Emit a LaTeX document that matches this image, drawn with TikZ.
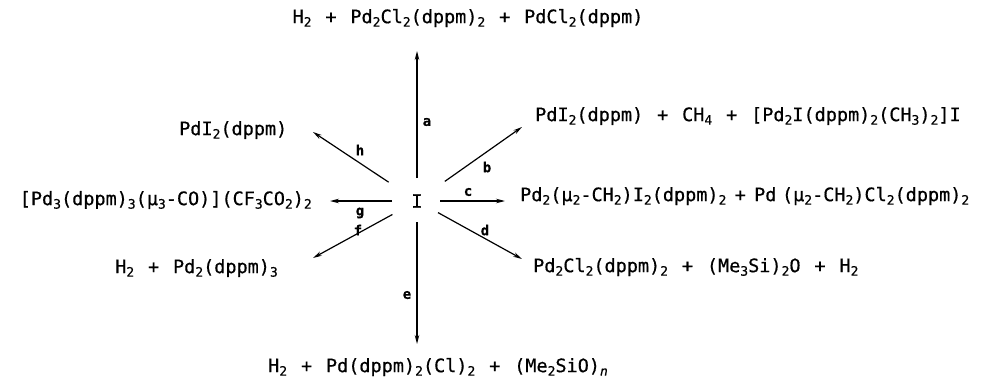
\documentclass[tikz,border=0pt]{standalone}
\usepackage{fontspec}
\setmainfont{DejaVu Sans Mono}[FakeBold=0.5]
\usetikzlibrary{arrows.meta}
\newcommand{\sbs}[1]{\raisebox{-0.35ex}{\fontsize{13}{13}\selectfont #1}}
\newcommand{\pl}{\hspace{0.75em}+\hspace{0.75em}}
\newcommand{\pln}{\hspace{0.45em}+\hspace{0.45em}}
\begin{document}
\begin{tikzpicture}[x=1pt,y=-1pt,
  txt/.style={inner sep=0pt,font=\fontsize{18.5}{20}\selectfont},
  lbl/.style={inner sep=0pt,font=\fontsize{14}{14}\selectfont\bfseries},
  arr/.style={line width=1.2pt,-{Stealth[length=9pt,width=4.5pt]}}]
\useasboundingbox[fill=white] (0,0) rectangle (983,380);
% centre
\node[txt] (I) at (417,201) {I};
% products
\node[txt] (pa) at (468,18) {H\sbs{2}\pl Pd\sbs{2}Cl\sbs{2}(dppm)\sbs{2}\pl PdCl\sbs{2}(dppm)};
\node[txt,anchor=west] (ph) at (179,130) {PdI\sbs{2}(dppm)};
\node[txt,anchor=west] (pb) at (535,116) {PdI\sbs{2}(dppm)\pl CH\sbs{4}\pl [Pd\sbs{2}I(dppm)\sbs{2}(CH\sbs{3})\sbs{2}]I};
\node[txt,anchor=east] (pg) at (312,200) {[Pd\sbs{3}(dppm)\sbs{3}(μ\sbs{3}-CO)](CF\sbs{3}CO\sbs{2})\sbs{2}};
\node[txt,anchor=west] (pc) at (520,196) {Pd\sbs{2}(μ\sbs{2}-CH\sbs{2})I\sbs{2}(dppm)\sbs{2}\pln Pd\hspace{0.3em}(μ\sbs{2}-CH\sbs{2})Cl\sbs{2}(dppm)\sbs{2}};
\node[txt,anchor=west] (pd) at (533,267) {Pd\sbs{2}Cl\sbs{2}(dppm)\sbs{2}\pl (Me\sbs{3}Si)\sbs{2}O\pl H\sbs{2}};
\node[txt,anchor=west] (pf) at (115,268) {H\sbs{2}\pl Pd\sbs{2}(dppm)\sbs{3}};
\node[txt] (pe) at (438,367) {H\sbs{2}\pl Pd(dppm)\sbs{2}(Cl)\sbs{2}\pl (Me\sbs{2}SiO)\sbs{\itshape n}};
% arrow tips
\coordinate (ta) at (417,51);
\coordinate (te) at (417,344);
\coordinate (tb) at (522,127);
\coordinate (tc) at (505,201);
\coordinate (td) at (522,259);
\coordinate (th) at (313,132);
\coordinate (tg) at (330,201);
\coordinate (tf) at (313,258);
% arrows
\draw[arr,shorten <=23pt] (I.center) -- (ta);
\draw[arr,shorten <=21pt] (I.center) -- (te);
\draw[arr,shorten <=34pt] (I.center) -- (tb);
\draw[arr,shorten <=23pt] (I.center) -- (tc);
\draw[arr,shorten <=24pt] (I.center) -- (td);
\draw[arr,shorten <=34pt] (I.center) -- (th);
\draw[arr,shorten <=25pt] (I.center) -- (tg);
\draw[arr,shorten <=28pt] (I.center) -- (tf);
% labels
\node[lbl] (la) at (427,122) {a};
\node[lbl] (lb) at (487,167) {b};
\node[lbl] (lc) at (468,192) {c};
\node[lbl] (ld) at (485,230) {d};
\node[lbl] (le) at (407,295) {e};
\node[lbl] (lf) at (358,230) {f};
\node[lbl] (lg) at (360,213) {g};
\node[lbl] (lh) at (360,150) {h};
\end{tikzpicture}
\end{document}
